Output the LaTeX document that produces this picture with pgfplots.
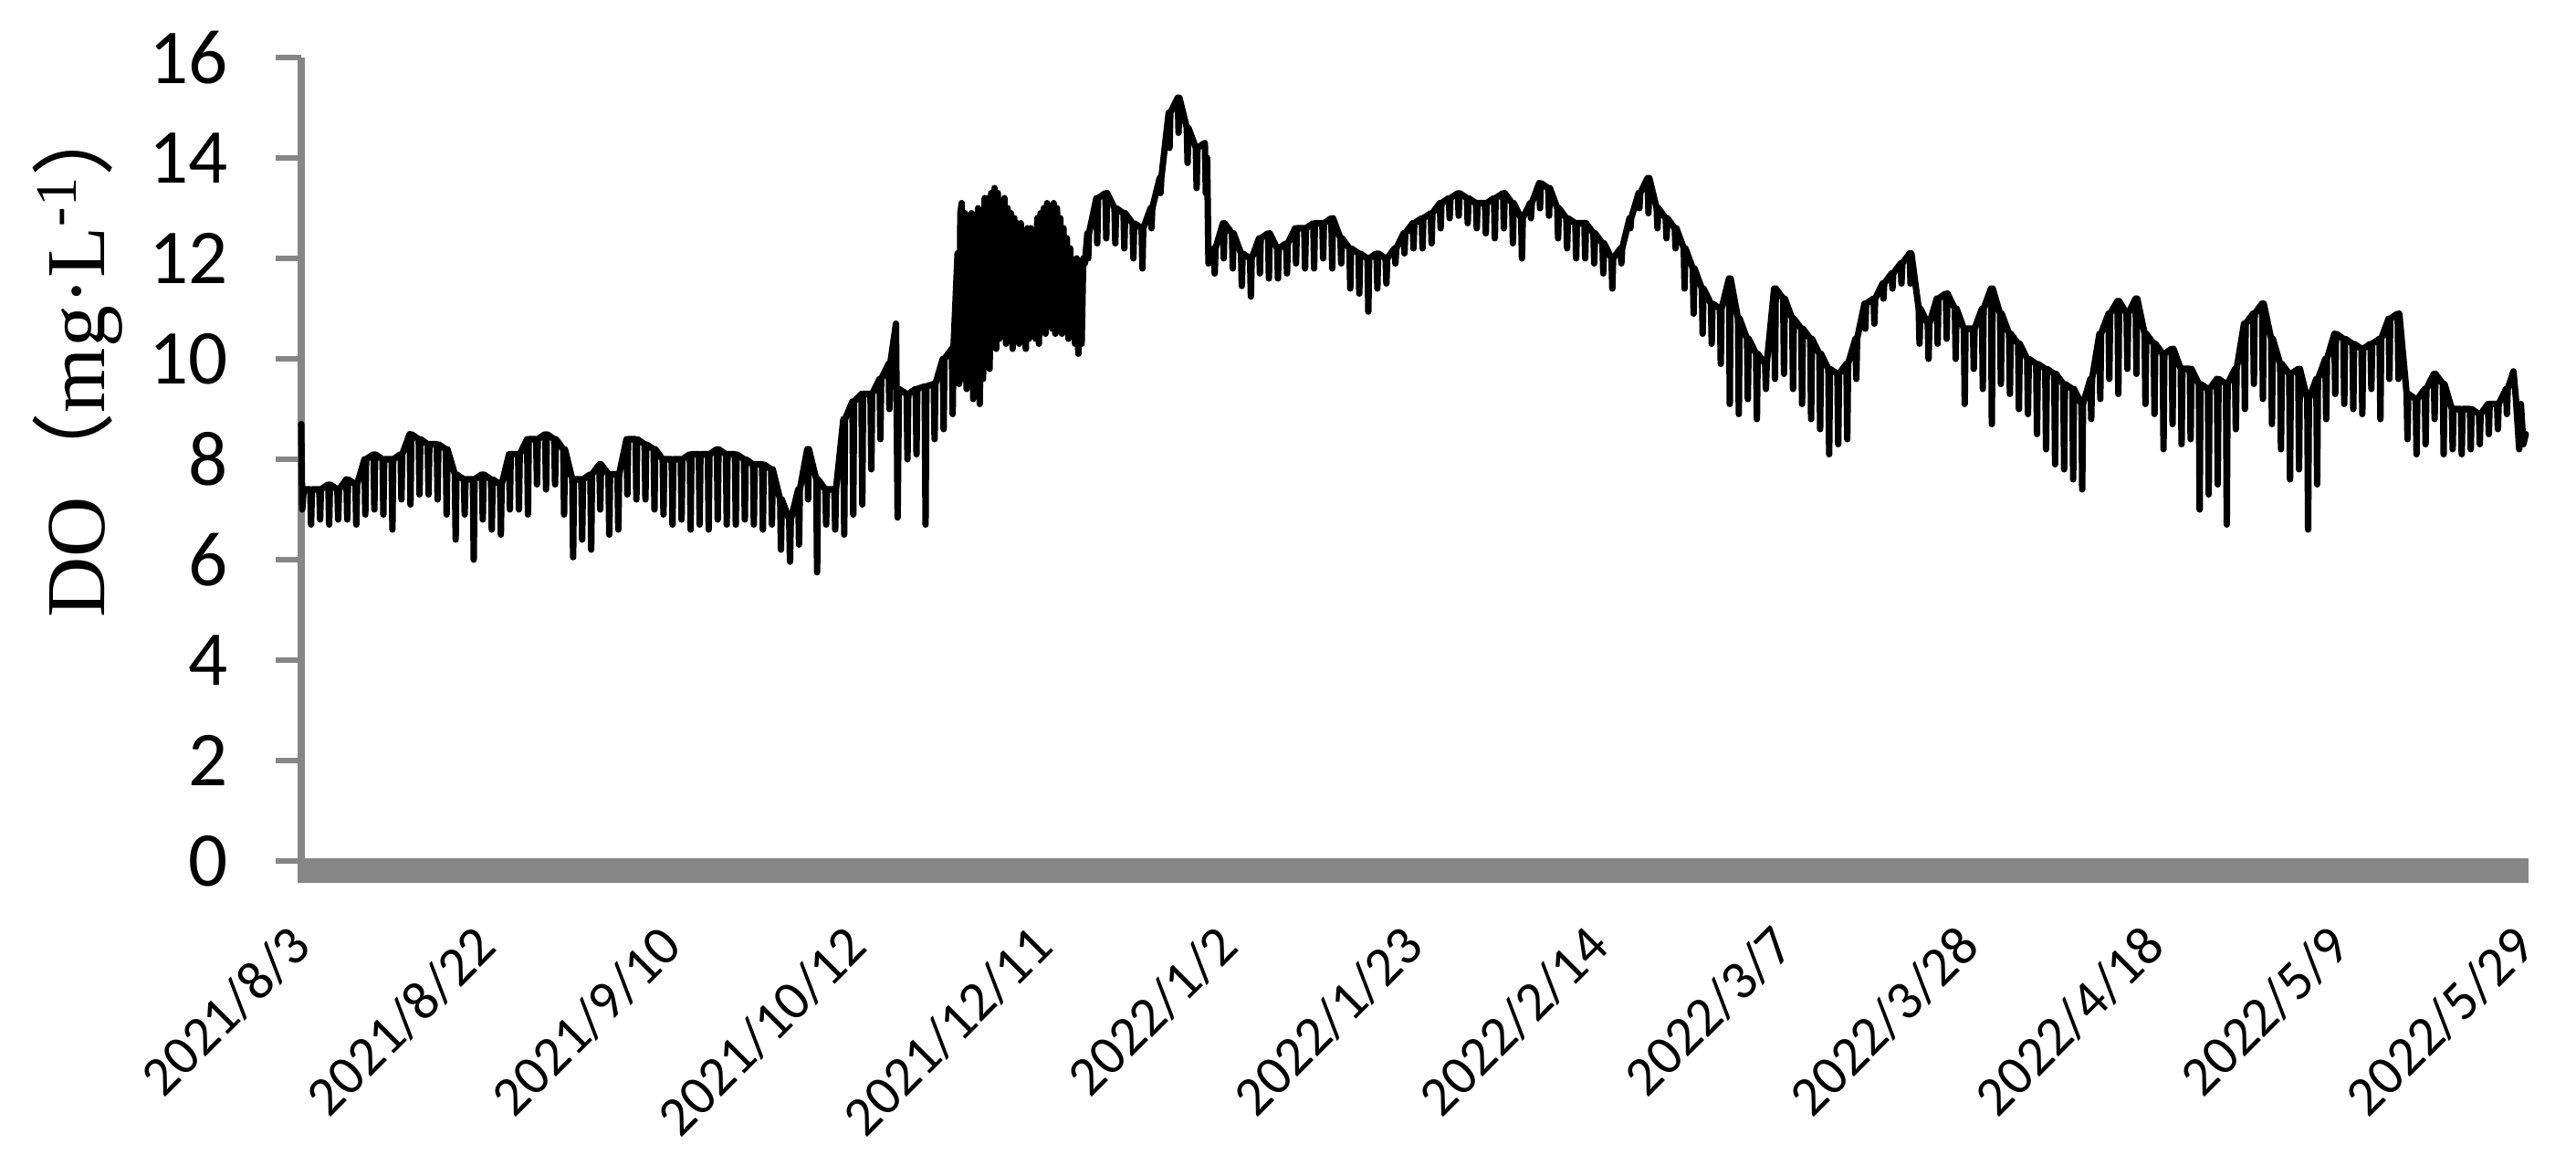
\documentclass[border=0pt]{standalone}
\usepackage{fontspec}
\setmainfont{Liberation Serif}
\newfontfamily\tickfont{Carlito}
\newfontfamily\cjk{Noto Sans CJK SC}
\usepackage{pgfplots}
\usepackage{pgfplotstable}
\pgfplotsset{compat=1.18}
\definecolor{axisgray}{RGB}{134,134,134}
\pgfplotstableread[row sep=\\]{
x y\\
0 8.7\\0.6 7.0\\1.5 7.4\\
5.5 7.4\\6 6.7\\6.5 7.4\\11 7.4\\11.5 6.8\\12 7.4\\16.5 7.5\\17 6.7\\17.5 7.5\\22 7.4\\22.5 6.8\\23 7.4\\27.5 7.6\\28 6.8\\28.5 7.6\\33 7.5\\33.5 6.7\\34 7.5\\
38.5 8.0\\39 6.9\\39.5 8.0\\44 8.1\\44.5 7.0\\45 8.1\\49.5 8.0\\50 6.9\\50.5 8.0\\55 8.0\\55.5 6.6\\56 8.0\\60.5 8.1\\61 7.2\\61.5 8.1\\66 8.5\\66.5 7.1\\67 8.5\\
71.5 8.4\\72 7.3\\72.5 8.4\\77 8.3\\77.5 7.3\\78 8.3\\82.5 8.3\\83 7.2\\83.5 8.3\\88 8.2\\88.5 6.9\\89 8.2\\93.5 7.7\\94 6.4\\94.5 7.7\\99 7.6\\99.5 6.9\\100 7.6\\
104.5 7.6\\105 6.0\\105.5 7.6\\110 7.7\\110.5 6.8\\111 7.7\\115.5 7.6\\116 6.6\\116.5 7.6\\121 7.5\\121.5 6.5\\122 7.5\\126.5 8.1\\127 7.0\\127.5 8.1\\
132 8.1\\132.5 7.0\\133 8.1\\137.5 8.4\\138 6.9\\138.5 8.4\\143 8.4\\143.5 7.5\\144 8.4\\148.5 8.5\\149 7.4\\149.5 8.5\\154 8.4\\154.5 7.5\\155 8.4\\
159.5 8.2\\160 6.9\\160.5 8.2\\165 7.6\\165.5 6.05\\166 7.6\\170.5 7.6\\171 6.4\\171.5 7.6\\176 7.7\\176.5 6.2\\177 7.7\\181.5 7.9\\182 7.0\\182.5 7.9\\
187 7.7\\187.5 6.5\\188 7.7\\192.5 7.7\\193 6.6\\193.5 7.7\\198 8.4\\198.5 7.3\\199 8.4\\203.5 8.4\\204 7.2\\204.5 8.4\\209 8.3\\209.5 7.2\\210 8.3\\
214.5 8.2\\215 7.0\\215.5 8.2\\220 8.0\\220.5 6.9\\221 8.0\\225.5 8.0\\226 6.7\\226.5 8.0\\231 8.0\\231.5 6.8\\232 8.0\\236.5 8.1\\237 6.6\\237.5 8.1\\
242 8.1\\242.5 6.7\\243 8.1\\247.5 8.1\\248 6.6\\248.5 8.1\\253 8.2\\253.5 6.8\\254 8.2\\258.5 8.1\\259 6.7\\259.5 8.1\\264 8.1\\264.5 6.7\\265 8.1\\
269.5 8.0\\270 6.8\\270.5 8.0\\275 7.9\\275.5 6.7\\276 7.9\\280.5 7.9\\281 6.6\\281.5 7.9\\286 7.8\\286.5 6.7\\287 7.8\\291.5 7.2\\292 6.2\\292.5 7.2\\
297 6.8\\297.5 5.96\\298 6.8\\302.5 7.4\\303 6.3\\303.5 7.4\\308 8.2\\308.5 7.2\\309 8.2\\313.5 7.6\\314 5.75\\314.5 7.6\\319 7.4\\319.5 6.7\\320 7.4\\
324.5 7.4\\325 6.6\\325.5 7.4\\330 8.8\\330.5 6.5\\331 8.8\\335.5 9.15\\336 6.9\\336.5 9.15\\341 9.3\\341.5 7.1\\342 9.3\\346.5 9.3\\347 7.8\\347.5 9.3\\
352 9.6\\352.5 8.4\\353 9.6\\357.5 9.9\\358 9.0\\358.5 9.9\\362 10.7\\363 6.84\\363.8 9.4\\368.5 9.3\\369 8.0\\369.5 9.3\\374 9.4\\374.5 8.1\\375 9.4\\
379.5 9.45\\380 6.7\\380.5 9.45\\385 9.5\\385.5 8.4\\386 9.5\\390.5 10.0\\391 8.6\\391.5 10.0\\396 10.2\\396.5 8.9\\397 10.2\\399.5 12.1\\400.5 9.5\\401.2 12.9\\
402 13.1\\403 9.6\\404 12.9\\405 9.4\\406 12.8\\407 9.7\\408 12.9\\409 9.2\\410 12.8\\411 9.3\\412 13.0\\413 9.1\\414 12.9\\415 9.6\\416 13.2\\417 10.0\\418 13.2\\419 9.8\\420 13.3\\421 10.4\\422 13.4\\423 10.2\\424 13.3\\425 10.4\\426 13.1\\427 10.6\\428 13.2\\429 10.3\\430 13.0\\431 10.4\\432 12.9\\433 10.2\\434 12.8\\435 10.4\\436 12.7\\437 10.3\\438 12.7\\439 10.6\\440 12.5\\441 10.2\\442 12.6\\443 10.4\\444 12.6\\445 10.7\\446 12.5\\447 10.4\\448 12.8\\449 10.3\\450 12.9\\451 10.8\\452 13.0\\453 10.5\\454 13.1\\455 10.9\\456 13.0\\457 10.6\\458 13.1\\459 10.5\\460 13.0\\461 10.9\\462 12.8\\463 10.5\\464 12.6\\465 10.7\\466 12.4\\467 10.4\\468 12.2\\469 10.6\\470 11.8\\471 10.3\\472 12.0\\473 10.1\\474 11.7\\475 10.3\\476 12.0\\477 11.9\\
478.5 12.5\\479 12.0\\479.5 12.5\\484 13.2\\484.5 12.3\\485 13.2\\489.5 13.3\\490 12.4\\490.5 13.3\\495 13.0\\495.5 12.3\\496 13.0\\500.5 12.9\\501 12.2\\501.5 12.9\\
506 12.7\\506.5 12.0\\507 12.7\\511.5 12.6\\512 11.8\\512.5 12.6\\517 13.0\\517.5 12.6\\518 13.0\\522.5 13.6\\523 13.3\\523.5 13.6\\528 14.9\\528.5 14.2\\529 14.9\\
533.5 15.2\\534 14.5\\534.5 15.2\\539 14.6\\539.5 13.9\\540 14.6\\544.5 14.2\\545 13.4\\545.5 14.2\\550 14.3\\550.6 13.3\\551.4 14.0\\552.2 11.9\\
555.5 12.2\\556 11.7\\556.5 12.2\\561 12.7\\561.5 12.0\\562 12.7\\566.5 12.5\\567 11.8\\567.5 12.5\\572 12.1\\572.5 11.45\\573 12.1\\577.5 12.0\\578 11.24\\578.5 12.0\\
583 12.4\\583.5 11.7\\584 12.4\\588.5 12.5\\589 11.6\\589.5 12.5\\594 12.2\\594.5 11.6\\595 12.2\\599.5 12.3\\600 11.7\\600.5 12.3\\605 12.6\\605.5 11.9\\606 12.6\\
610.5 12.6\\611 11.8\\611.5 12.6\\616 12.7\\616.5 11.8\\617 12.7\\621.5 12.7\\622 12.0\\622.5 12.7\\627 12.8\\627.5 11.8\\628 12.8\\632.5 12.4\\633 11.9\\633.5 12.4\\
638 12.2\\638.5 11.4\\639 12.2\\643.5 12.1\\644 11.3\\644.5 12.1\\649 12.0\\649.5 10.94\\650 12.0\\654.5 12.1\\655 11.4\\655.5 12.1\\660 12.0\\660.5 11.5\\661 12.0\\
665.5 12.2\\666 11.9\\666.5 12.2\\671 12.5\\671.5 12.1\\672 12.5\\676.5 12.7\\677 12.2\\677.5 12.7\\682 12.8\\682.5 12.2\\683 12.8\\687.5 12.9\\688 12.3\\688.5 12.9\\
693 13.1\\693.5 12.6\\694 13.1\\698.5 13.2\\699 12.8\\699.5 13.2\\704 13.3\\704.5 12.85\\705 13.3\\709.5 13.2\\710 12.7\\710.5 13.2\\715 13.1\\715.5 12.6\\716 13.1\\
720.5 13.1\\721 12.5\\721.5 13.1\\726 13.2\\726.5 12.4\\727 13.2\\731.5 13.3\\732 12.6\\732.5 13.3\\737 13.1\\737.5 12.3\\738 13.1\\742.5 12.8\\743 12.0\\743.5 12.8\\
748 13.1\\748.5 12.8\\749 13.1\\753.5 13.5\\754 13.0\\754.5 13.5\\759 13.4\\759.5 12.85\\760 13.4\\764.5 13.0\\765 12.4\\765.5 13.0\\770 12.8\\770.5 12.2\\771 12.8\\
775.5 12.7\\776 12.0\\776.5 12.7\\781 12.7\\781.5 12.0\\782 12.7\\786.5 12.5\\787 11.9\\787.5 12.5\\792 12.3\\792.5 11.7\\793 12.3\\797.5 12.0\\798 11.4\\798.5 12.0\\
803 12.2\\803.5 11.9\\804 12.2\\808.5 12.8\\809 12.6\\809.5 12.8\\814 13.3\\814.5 13.0\\815 13.3\\819.5 13.6\\820 12.9\\820.5 13.6\\825 13.0\\825.5 12.6\\826 13.0\\
830.5 12.8\\831 12.4\\831.5 12.8\\836 12.6\\836.5 12.2\\837 12.6\\841.5 12.2\\842 11.4\\842.5 12.2\\847 11.8\\847.5 10.9\\848 11.8\\852.5 11.4\\853 10.5\\853.5 11.4\\
858 11.1\\858.5 10.3\\859 11.1\\863.5 11.0\\864 9.9\\864.5 11.0\\869 11.6\\869.5 9.1\\870 11.6\\874.5 10.8\\875 8.9\\875.5 10.8\\880 10.4\\880.5 9.2\\881 10.4\\
885.5 10.1\\886 8.8\\886.5 10.1\\891 9.9\\891.5 9.4\\892 9.9\\896.5 11.4\\897 9.6\\897.5 11.4\\902 11.2\\902.5 9.7\\903 11.2\\907.5 10.8\\908 9.4\\908.5 10.8\\
913 10.6\\913.5 9.1\\914 10.6\\918.5 10.4\\919 8.8\\919.5 10.4\\924 10.1\\924.5 8.6\\925 10.1\\929.5 9.8\\930 8.1\\930.5 9.8\\935 9.7\\935.5 8.3\\936 9.7\\
940.5 9.9\\941 8.4\\941.5 9.9\\946 10.4\\946.5 9.6\\947 10.4\\951.5 11.1\\952 10.6\\952.5 11.1\\957 11.2\\957.5 10.7\\958 11.2\\962.5 11.5\\963 11.2\\963.5 11.5\\
968 11.7\\968.5 11.4\\969 11.7\\973.5 11.9\\974 11.5\\974.5 11.9\\979 12.1\\979.5 11.5\\980 12.1\\984.5 11.0\\985 10.3\\985.5 11.0\\990 10.7\\990.5 10.0\\991 10.7\\
995.5 11.2\\996 10.3\\996.5 11.2\\1001 11.3\\1001.5 10.4\\1002 11.3\\1006.5 11.0\\1007 10.0\\1007.5 11.0\\1012 10.6\\1012.5 9.1\\1013 10.6\\1017.5 10.6\\1018 9.8\\1018.5 10.6\\
1023 11.0\\1023.5 9.4\\1024 11.0\\1028.5 11.4\\1029 8.7\\1029.5 11.4\\1034 10.9\\1034.5 9.5\\1035 10.9\\1039.5 10.5\\1040 9.3\\1040.5 10.5\\1045 10.3\\1045.5 9.0\\1046 10.3\\
1050.5 10.0\\1051 8.9\\1051.5 10.0\\1056 9.9\\1056.5 8.5\\1057 9.9\\1061.5 9.8\\1062 8.2\\1062.5 9.8\\1067 9.7\\1067.5 7.9\\1068 9.7\\1072.5 9.5\\1073 7.8\\1073.5 9.5\\
1078 9.4\\1078.5 7.6\\1079 9.4\\1083.5 9.1\\1084 7.4\\1084.5 9.1\\1089 9.6\\1089.5 8.8\\1090 9.6\\1094.5 10.5\\1095 9.2\\1095.5 10.5\\1100 10.9\\1100.5 9.6\\1101 10.9\\
1105.5 11.15\\1106 9.3\\1106.5 11.15\\1111 10.9\\1111.5 9.8\\1112 10.9\\1116.5 11.2\\1117 9.7\\1117.5 11.2\\1122 10.5\\1122.5 9.1\\1123 10.5\\1127.5 10.3\\1128 8.9\\1128.5 10.3\\
1133 10.1\\1133.5 8.2\\1134 10.1\\1138.5 10.2\\1139 8.7\\1139.5 10.2\\1144 9.8\\1144.5 8.3\\1145 9.8\\1149.5 9.8\\1150 8.4\\1150.5 9.8\\1155 9.5\\1155.5 7.0\\1156 9.5\\
1160.5 9.4\\1161 7.3\\1161.5 9.4\\1166 9.6\\1166.5 7.5\\1167 9.6\\1171.5 9.5\\1172 6.7\\1172.5 9.5\\1177 9.8\\1177.5 8.6\\1178 9.8\\1182.5 10.7\\1183 9.0\\1183.5 10.7\\
1188 10.9\\1188.5 9.5\\1189 10.9\\1193.5 11.1\\1194 9.2\\1194.5 11.1\\1199 10.4\\1199.5 8.7\\1200 10.4\\1204.5 9.9\\1205 8.2\\1205.5 9.9\\1210 9.7\\1210.5 7.6\\1211 9.7\\
1215.5 9.8\\1216 7.8\\1216.5 9.8\\1221 9.2\\1221.5 6.6\\1222 9.2\\1226.5 9.6\\1227 7.5\\1227.5 9.6\\1232 10.0\\1232.5 8.8\\1233 10.0\\1237.5 10.5\\1238 9.3\\1238.5 10.5\\
1243 10.4\\1243.5 9.1\\1244 10.4\\1248.5 10.3\\1249 9.0\\1249.5 10.3\\1254 10.2\\1254.5 8.9\\1255 10.2\\1259.5 10.3\\1260 9.4\\1260.5 10.3\\1265 10.4\\1265.5 8.8\\1266 10.4\\
1270.5 10.8\\1271 9.6\\1271.5 10.8\\1276 10.9\\1276.5 9.6\\1277 10.9\\1281.5 9.3\\1282 8.4\\1282.5 9.3\\1287 9.2\\1287.5 8.1\\1288 9.2\\1292.5 9.4\\1293 8.3\\1293.5 9.4\\
1298 9.7\\1298.5 8.8\\1299 9.7\\1303.5 9.5\\1304 8.1\\1304.5 9.5\\1309 9.0\\1309.5 8.2\\1310 9.0\\1314.5 9.0\\1315 8.1\\1315.5 9.0\\1320 9.0\\1320.5 8.2\\1321 9.0\\
1325.5 8.9\\1326 8.3\\1326.5 8.9\\1331 9.1\\1331.5 8.5\\1332 9.1\\1336.5 9.1\\1337 8.6\\1337.5 9.1\\1342 9.4\\1342.5 8.9\\1343 9.4\\1346.5 9.75\\1348 9.2\\1350 8.2\\1351 9.1\\1352.5 8.3\\1354 8.5\\
}\dodata
\begin{document}
\begin{tikzpicture}
\useasboundingbox (-33mm,-34.5mm) rectangle (249.2mm,94.3mm);
\begin{axis}[
  at={(0,0)}, anchor=south west,
  scale only axis, width=243.7mm, height=88mm,
  xmin=0, xmax=1354, ymin=0, ymax=16,
  axis x line*=bottom, axis y line*=left,
  x axis line style={draw=none},
  y axis line style={draw=axisgray, line width=2pt, -},
  ytick={0,2,...,16},
  xtick={0,112.833,225.667,338.5,451.333,564.167,677,789.833,902.667,1015.5,1128.333,1241.167,1354},
  xticklabels={2021/8/3,2021/8/22,2021/9/10,2021/10/12,2021/12/11,2022/1/2,2022/1/23,2022/2/14,2022/3/7,2022/3/28,2022/4/18,2022/5/9,2022/5/29},
  tick align=outside,
  major tick length=2.75mm,
  ytick style={draw=axisgray, line width=1.7pt},
  xtick style={draw=none},
  /pgf/number format/assume math mode=true,
  yticklabel style={font=\tickfont\fontsize{24.2}{29}\selectfont, anchor=east, inner sep=0pt},
  yticklabel shift=5.25mm,
  xticklabel style={font=\tickfont\fontsize{17.3}{21}\selectfont, rotate=45, anchor=east, inner sep=0pt},
  xticklabel shift=5.45mm,
  clip=false,
]
\addplot[black, line width=2.0pt, line join=round, line cap=round] table[x=x,y=y]{\dodata};
\fill[axisgray] ([shift={(-0.4mm,0.3mm)}]rel axis cs:0,0) rectangle ([shift={(0.3mm,-2.4mm)}]rel axis cs:1,0);
\node[rotate=90, anchor=base west, inner sep=0pt, font=\fontsize{26.1}{31}\selectfont] at ([shift={(-21.5mm,26.6mm)}]rel axis cs:0,0) {DO{\cjk （}mg·L\textsuperscript{-1}{\cjk ）}};
\end{axis}
\end{tikzpicture}
\end{document}
